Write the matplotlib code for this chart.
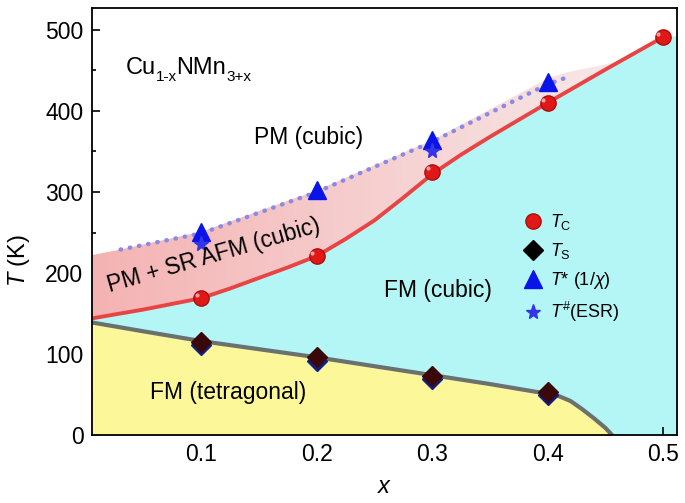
import numpy as np
import matplotlib
matplotlib.use('Agg')
import matplotlib.pyplot as plt
from matplotlib.patches import Polygon

plt.rcParams['font.family'] = ['Liberation Sans', 'DejaVu Sans']
plt.rcParams['mathtext.fontset'] = 'custom'
plt.rcParams['mathtext.rm'] = 'Liberation Sans'
plt.rcParams['mathtext.it'] = 'Liberation Sans:italic'

# measured points
x_tc = [0.1, 0.2, 0.3, 0.4, 0.5]
Tc = [169, 221, 325, 410, 491]
x_ts = [0.1, 0.2, 0.3, 0.4]
Ts = [115, 96, 73, 53]
x_tstar = [0.1, 0.2, 0.3, 0.4]
Tstar = [251, 302, 364, 436]
x_esr = [0.1, 0.3]
Tesr = [236, 350]

# phase boundaries
tc_line_x = [0.005, 0.05, 0.1, 0.125, 0.15, 0.175, 0.2, 0.225, 0.25, 0.275, 0.3,
             0.325, 0.35, 0.375, 0.4, 0.45, 0.5]
tc_line_T = [144, 155, 169, 181, 194, 207, 221, 242, 265, 293, 322,
             346, 368, 389, 410, 451, 491]
ts_line_x = [0.005, 0.05, 0.1, 0.15, 0.2, 0.25, 0.3, 0.35, 0.4, 0.41, 0.42, 0.43, 0.44, 0.45, 0.456]
ts_line_T = [139, 128, 116, 106, 96, 85, 74, 63, 51, 48, 42, 32, 21, 9, 0]
tstar_line_x = [0.03, 0.1, 0.2, 0.3, 0.4, 0.418]
tstar_line_T = [229, 249, 300, 362, 433, 442]
pink_top_x = [0.005, 0.03, 0.1, 0.2, 0.3, 0.4, 0.418, 0.462]
pink_top_T = [222, 229, 251, 302, 364, 440, 448, 461]
cyan_top_x = tc_line_x + [0.52]
cyan_top_T = tc_line_T + [495]

xmin, xmax = 0.005, 0.512
ymin, ymax = 0, 527

fig = plt.figure(figsize=(6.85, 5.03), dpi=100)
ax = fig.add_axes([0.134, 0.135, 0.854, 0.849])

# regions
ax.fill_between(cyan_top_x, cyan_top_T, 0, color='#b4f6f6', lw=0, zorder=1)
ax.fill_between(ts_line_x, ts_line_T, 0, color='#fcf798', lw=0, zorder=2)

# pink region with gradient
px = pink_top_x + [x for x in tc_line_x[::-1] if x < 0.462]
pT = pink_top_T + [t for x, t in zip(tc_line_x[::-1], tc_line_T[::-1]) if x < 0.462]
poly = Polygon(np.column_stack([px, pT]), closed=True, facecolor='none', edgecolor='none')
ax.add_patch(poly)
grad = np.linspace(0, 1, 256).reshape(1, -1)
c0 = np.array([0.96, 0.70, 0.70])
c1 = np.array([0.97, 0.91, 0.91])
img = c0[None, None, :] * (1 - grad[..., None]) + c1[None, None, :] * grad[..., None]
im = ax.imshow(img, extent=[xmin, 0.462, 140, 465], aspect='auto', origin='lower', zorder=2)
im.set_clip_path(poly)

# boundary lines
ax.plot(ts_line_x, ts_line_T, color='#6b716e', lw=3, zorder=3, solid_capstyle='butt')
ax.plot(tc_line_x, tc_line_T, color='#e94444', lw=2.8, zorder=3)
ax.plot(tstar_line_x, tstar_line_T, color='#8a8ae6', lw=3.2, linestyle=(0, (0.1, 2.0)),
        dash_capstyle='round', zorder=3)

# markers
ax.plot(x_ts, [t - 4 for t in Ts], 'D', color='#10208a', ms=10, zorder=4)
ax.plot(x_ts, Ts, 'D', color='#3a0808', ms=10, zorder=4)
ax.plot(x_tc, Tc, 'o', color='#e01818', mec='#b00c0c', ms=11, zorder=5)
ax.plot([x - 0.004 for x in x_tc], [t + 4 for t in Tc], 'o', color='white', alpha=0.6, ms=3, mew=0, zorder=6)
ax.plot(x_tstar, Tstar, '^', color='#0a14e8', ms=13, zorder=5)
ax.plot(x_esr, Tesr, '*', color='#3535e8', ms=11, zorder=5)

# legend
hc, = ax.plot([], [], 'o', color='#e01818', mec='#b00c0c', ms=11)
hs, = ax.plot([], [], 'D', color='black', ms=10)
ht, = ax.plot([], [], '^', color='#0a14e8', ms=13)
he, = ax.plot([], [], '*', color='#3535e8', ms=11)
leg = ax.legend([hc, hs, ht, he],
                [r'$T_\mathrm{C}$', r'$T_\mathrm{S}$', r'$T$* (1/$\chi$)', r'$T^{\#}$(ESR)'],
                loc='upper left', bbox_to_anchor=(0.703, 0.56), frameon=False,
                fontsize=13, handletextpad=0.2, labelspacing=0.5, handlelength=1.5)
leg.set_zorder(7)

# formula Cu(1-x)NMn(3+x), pieces chained one after the other
t1 = ax.text(0.034, 446, 'Cu', fontsize=17, va='baseline', zorder=7)
t2 = ax.annotate('1-x', xy=(1, 0), xycoords=t1, xytext=(0, -2), textcoords='offset points',
                 fontsize=11, va='baseline', ha='left', zorder=7)
t3 = ax.annotate('NMn', xy=(1, 0), xycoords=(t2, t1), fontsize=17, va='bottom', ha='left', zorder=7)
t4 = ax.annotate('3+x', xy=(1, 0), xycoords=(t3, t1), xytext=(0, -2), textcoords='offset points',
                 fontsize=11, va='baseline', ha='left', zorder=7)

# labels in the diagram
ax.text(0.193, 367, 'PM (cubic)', fontsize=16.5, ha='center', va='center', zorder=7)
ax.text(0.305, 179, 'FM (cubic)', fontsize=16.5, ha='center', va='center', zorder=7)
ax.text(0.123, 52, 'FM (tetragonal)', fontsize=16.5, ha='center', va='center', zorder=7)
ax.text(0.111, 222, 'PM + SR AFM (cubic)', fontsize=16.5, ha='center', va='center',
        rotation=16, zorder=7)

ax.set_xlim(xmin, xmax)
ax.set_ylim(ymin, ymax)
ax.set_xticks([0.1, 0.2, 0.3, 0.4, 0.5])
ax.set_xticks([0.05, 0.15, 0.25, 0.35, 0.45], minor=True)
ax.set_yticks([0, 100, 200, 300, 400, 500])
ax.set_yticks([50, 150, 250, 350, 450], minor=True)
ax.tick_params(direction='in', which='major', length=6, width=1.2, labelsize=16.5, pad=6)
ax.tick_params(direction='in', which='minor', length=3, width=1.2)
for s in ax.spines.values():
    s.set_linewidth(1.3)
    s.set_zorder(8)
ax.set_xlabel(r'$x$', fontsize=17, labelpad=7)
ax.set_ylabel(r'$T$ (K)', fontsize=17)
ax.yaxis.set_label_coords(-0.103, 0.41)

fig.savefig('out.png', dpi=100)
